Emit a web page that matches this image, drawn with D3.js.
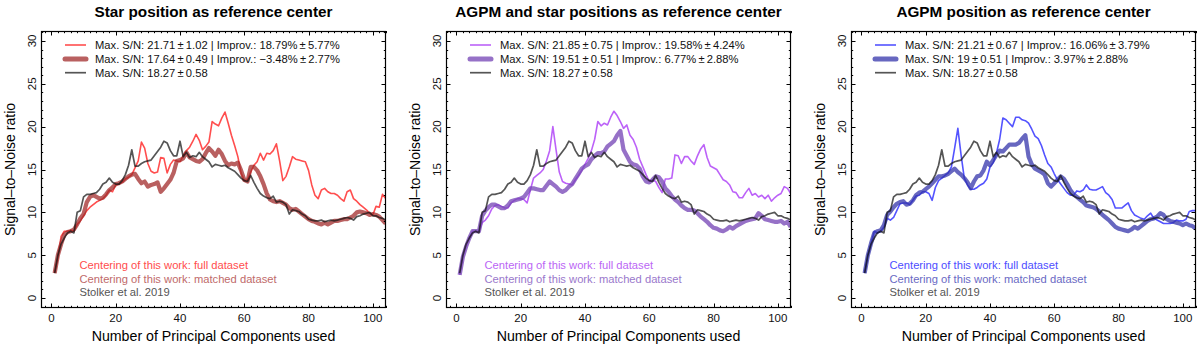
<!DOCTYPE html>
<html><head><meta charset="utf-8">
<script src="https://cdn.jsdelivr.net/npm/d3@7"></script>
<style>
html,body{margin:0;padding:0;background:#fff;}
svg{display:block;font-family:"Liberation Sans",Arial,Helvetica,sans-serif;}
</style></head>
<body><svg id="c" width="1200" height="347"></svg>
<script>
// ---- data ----
const pcs = d3.range(1, 105); // principal components used
const stolkerSN = [2.9,5.0,6.3,7.0,7.6,7.8,7.6,10.0,10.2,11.8,12.1,12.1,12.2,12.3,12.7,13.3,13.5,14.0,13.5,13.3,13.3,13.7,14.4,15.5,17.3,15.4,15.4,15.7,15.9,16.0,16.1,16.6,17.1,17.6,18.3,18.1,17.2,16.6,16.6,18.3,16.5,17.0,16.4,16.6,16.5,17.0,16.5,16.2,15.9,15.3,15.6,15.5,15.4,15.5,15.2,15.0,14.8,14.4,14.0,13.7,13.6,14.3,13.5,12.8,12.2,11.9,11.7,11.6,11.9,11.2,11.3,11.2,10.9,9.8,10.3,10.2,10.1,9.8,9.6,9.2,9.1,9.0,9.0,9.1,8.9,9.0,9.1,9.0,9.1,9.2,9.3,9.4,9.3,9.1,9.5,9.6,9.8,9.9,10.0,9.6,9.6,9.4,9.3,9.1];
const starFullSN = [2.9,4.7,7.2,7.8,7.8,7.9,7.8,8.6,9.0,9.6,10.2,10.6,10.9,11.2,11.4,11.6,12.0,12.6,12.4,13.2,13.3,13.5,13.9,14.1,14.4,15.2,16.0,18.2,17.5,15.7,14.8,14.6,14.7,16.4,16.3,14.6,15.6,16.1,16.0,15.9,16.6,17.2,17.6,18.3,19.1,18.4,17.3,17.7,18.2,20.6,20.3,20.1,21.0,21.7,20.4,19.0,17.8,16.5,14.6,13.7,13.8,14.7,15.5,15.9,16.9,16.1,16.9,16.8,17.2,18.0,16.0,13.7,14.2,15.3,16.5,16.2,16.1,16.0,15.9,14.9,13.2,12.0,11.6,12.6,12.8,12.4,12.2,12.2,12.0,11.6,11.3,12.4,12.6,11.6,11.3,10.9,10.6,10.3,9.9,9.7,10.7,10.6,12.1,11.6];
const starMatchedSN = [2.9,5.0,6.3,7.4,7.7,7.8,8.0,8.6,9.3,9.8,11.2,11.8,12.0,11.8,11.6,11.7,12.1,12.6,12.9,13.3,13.4,13.6,13.9,14.2,14.4,14.5,13.9,13.4,13.6,13.0,13.2,13.3,13.5,12.4,12.8,13.3,13.8,14.6,16.0,16.1,16.3,17.0,16.4,16.2,16.0,15.9,16.2,16.9,17.5,17.1,16.6,17.3,16.8,16.0,15.5,15.7,15.6,15.8,14.9,13.8,13.6,15.3,15.3,14.9,14.2,13.3,12.2,11.5,11.3,11.2,11.3,11.1,10.9,10.5,10.3,10.4,10.1,9.8,9.5,9.2,9.0,8.9,8.7,8.6,8.8,8.6,8.8,9.0,9.0,9.1,9.2,9.2,9.4,9.6,10.0,10.1,10.0,9.9,9.7,9.8,9.7,9.5,9.1,8.7];
const bothFullSN = [2.7,4.8,6.0,7.0,7.8,7.8,7.8,8.8,9.1,9.6,10.4,10.8,10.9,10.7,10.5,10.5,11.1,11.4,11.6,11.6,11.5,11.1,12.6,14.0,14.3,14.6,15.0,16.0,17.2,20.0,17.3,14.7,13.6,13.4,13.3,13.2,13.8,14.3,14.9,15.6,16.3,17.2,18.5,20.6,20.1,20.4,20.2,21.1,21.8,21.3,20.6,19.8,20.2,19.0,18.5,17.6,16.2,15.3,14.4,13.6,13.8,13.6,12.9,12.3,13.9,13.9,14.0,16.7,16.6,15.7,16.5,16.5,16.0,15.6,16.6,17.4,17.9,16.4,15.4,15.2,15.0,14.4,13.8,13.6,13.2,12.4,12.3,11.7,11.7,12.3,12.8,12.0,12.2,11.8,12.0,11.6,12.0,11.3,11.7,12.0,12.2,13.0,12.8,12.2];
const bothMatchedSN = [2.7,4.8,6.0,7.0,7.8,7.8,7.8,9.6,10.2,10.6,10.9,10.9,10.7,10.5,10.5,10.8,11.3,11.4,11.5,11.6,11.8,12.3,12.8,12.8,12.7,12.6,12.6,13.1,13.6,13.3,13.0,12.6,12.4,12.6,13.0,13.3,13.9,14.5,15.1,15.4,15.6,16.2,16.6,16.9,16.9,17.1,17.7,18.0,18.3,19.0,19.5,17.3,16.6,15.9,15.6,15.5,15.1,14.2,13.6,13.5,13.8,14.2,14.1,13.6,12.8,12.4,11.9,11.5,11.2,10.8,10.5,10.3,10.3,10.2,9.9,9.5,9.2,8.9,8.5,8.2,8.1,7.9,7.8,8.0,8.3,8.1,8.4,8.6,8.8,9.0,9.1,9.2,9.3,9.9,9.6,9.2,9.1,9.0,8.9,8.9,9.0,8.7,8.9,8.3];
const agpmFullSN = [2.9,5.0,6.4,7.8,7.6,7.8,8.3,9.3,9.1,9.4,10.2,11.0,11.1,11.1,10.9,11.4,11.9,12.0,12.4,12.4,12.2,11.4,12.9,13.7,14.0,14.3,14.6,15.3,17.5,19.8,16.7,14.0,13.2,12.7,12.7,12.9,13.2,13.4,13.9,15.3,15.8,16.9,18.5,21.0,20.8,20.4,20.0,21.1,21.1,20.8,20.7,20.4,19.7,18.9,18.6,17.8,16.7,15.7,15.3,14.5,13.8,13.3,12.8,12.3,12.0,12.0,12.5,12.4,12.6,13.2,12.7,12.6,12.6,12.8,13.0,12.3,12.0,11.5,10.5,10.5,10.5,10.8,11.1,10.2,9.7,9.5,9.3,9.2,9.6,9.9,9.3,9.1,8.9,8.7,8.7,8.7,8.8,9.1,9.0,9.0,9.2,10.1,10.2,10.2];
const agpmMatchedSN = [2.9,5.0,6.4,7.6,7.8,7.9,8.5,9.7,10.1,10.6,11.0,11.2,11.3,10.9,11.0,11.4,12.0,12.3,12.4,12.7,13.0,13.4,13.8,14.2,14.2,14.3,14.5,14.8,15.1,14.7,14.4,14.0,13.5,12.8,13.6,14.2,14.3,14.9,15.9,15.5,16.1,16.7,17.2,17.1,17.5,17.9,17.9,17.9,18.1,18.6,19.0,16.5,15.6,15.1,14.9,14.7,14.4,13.4,13.0,13.4,13.8,14.2,13.9,13.3,12.6,12.1,11.8,11.5,11.2,10.8,10.7,10.6,10.4,10.1,9.7,9.4,9.1,8.7,8.3,8.1,8.0,7.9,7.8,8.0,8.3,8.1,8.4,8.7,9.0,9.2,9.3,9.5,9.9,9.7,9.2,9.0,8.9,8.8,8.7,8.5,8.7,8.5,8.4,8.1];

const titles = ["Star position as reference center","AGPM and star positions as reference center","AGPM position as reference center"];
const fullSeries = [starFullSN, bothFullSN, agpmFullSN];
const matchedSeries = [starMatchedSN, bothMatchedSN, agpmMatchedSN];
const fullColors = ["rgba(255,28,28,0.78)","rgba(165,45,245,0.75)","rgba(25,25,255,0.75)"];
const matchedColors = ["rgba(160,40,40,0.74)","rgba(118,70,182,0.77)","rgba(50,50,170,0.74)"];
const fullText = ["#ff4d4d","#bb66f5","#4d4dff"];
const matchedText = ["#c06a6a","#9a78cc","#6a6ac4"];
const legendFull = ["Max. S/N: 21.71\u2009±\u20091.02 | Improv.: 18.79%\u2009±\u20095.77%","Max. S/N: 21.85\u2009±\u20090.75 | Improv.: 19.58%\u2009±\u20094.24%","Max. S/N: 21.21\u2009±\u20090.67 | Improv.: 16.06%\u2009±\u20093.79%"];
const legendMatched = ["Max. S/N: 17.64\u2009±\u20090.49 | Improv.: \u22123.48%\u2009±\u20092.77%","Max. S/N: 19.51\u2009±\u20090.51 | Improv.: 6.77%\u2009±\u20092.88%","Max. S/N: 19\u2009±\u20090.51 | Improv.: 3.97%\u2009±\u20092.88%"];
const legendStolker = "Max. S/N: 18.27\u2009±\u20090.58";
const xMajor = [0,20,40,60,80,100];
const yMajor = [0,5,10,15,20,25,30];

// ---- layout ----
const svg = d3.select("#c");
const panelLefts = [41, 446, 851];
const W = 345, plotTop = 31, plotBottom = 308;
const grayColor = "rgba(20,20,20,0.72)";

panelLefts.forEach((L, i) => {
  const x = d3.scaleLinear().domain([-3.25, 104.1]).range([L, L + W]);
  const y = d3.scaleLinear().domain([-1.16, 31.16]).range([plotBottom, plotTop]);
  const g = svg.append("g");
  const cid = "clip" + i;
  svg.append("defs").append("clipPath").attr("id", cid)
    .append("rect").attr("x", L).attr("y", plotTop).attr("width", W).attr("height", plotBottom - plotTop);

  const line = d3.line().x((d, j) => x(pcs[j])).y(d => y(d));
  const lines = g.append("g").attr("clip-path", `url(#${cid})`);
  lines.append("path").datum(fullSeries[i]).attr("d", line)
    .attr("fill", "none").attr("stroke", fullColors[i]).attr("stroke-width", 1.6).attr("stroke-linejoin", "round");
  lines.append("path").datum(matchedSeries[i]).attr("d", line)
    .attr("fill", "none").attr("stroke", matchedColors[i]).attr("stroke-width", 4.2).attr("stroke-linejoin", "round");
  lines.append("path").datum(stolkerSN).attr("d", line)
    .attr("fill", "none").attr("stroke", grayColor).attr("stroke-width", 1.7).attr("stroke-linejoin", "round");

  // frame
  g.append("rect").attr("x", L + 0.5).attr("y", plotTop + 0.5).attr("width", W - 1).attr("height", plotBottom - plotTop - 1)
    .attr("fill", "none").attr("stroke", "#000").attr("stroke-width", 1.2);

  // ticks (inward, all four sides)
  const xMinor = d3.range(-2, 105, 2).filter(v => !xMajor.includes(v));
  const yMinor = d3.range(-1, 32, 1).filter(v => !yMajor.includes(v));
  const tk = g.append("g").attr("stroke", "#000").attr("stroke-width", 1);
  const addX = (vals, len) => vals.forEach(v => {
    const px = Math.round(x(v)) + 0.5;
    tk.append("line").attr("x1", px).attr("x2", px).attr("y1", plotBottom).attr("y2", plotBottom - len);
    tk.append("line").attr("x1", px).attr("x2", px).attr("y1", plotTop).attr("y2", plotTop + len);
  });
  const addY = (vals, len) => vals.forEach(v => {
    const py = Math.round(y(v)) + 0.5;
    tk.append("line").attr("y1", py).attr("y2", py).attr("x1", L).attr("x2", L + len);
    tk.append("line").attr("y1", py).attr("y2", py).attr("x1", L + W).attr("x2", L + W - len);
  });
  addX(xMajor, 4.5); addX(xMinor, 2.2);
  addY(yMajor, 4.5); addY(yMinor, 2.2);

  // tick labels
  g.selectAll(".xt").data(xMajor).enter().append("text")
    .attr("x", d => x(d)).attr("y", 322).attr("text-anchor", "middle")
    .attr("font-size", 11.5).attr("fill", "#111").text(d => d);
  g.selectAll(".yt").data(yMajor).enter().append("text")
    .attr("transform", d => `translate(${L - 5.5},${y(d)}) rotate(-90)`)
    .attr("text-anchor", "middle").attr("font-size", 11.5).attr("fill", "#111").text(d => d);

  // axis titles
  g.append("text").attr("x", L + W / 2).attr("y", 341).attr("text-anchor", "middle")
    .attr("font-size", 14.2).attr("fill", "#000").text("Number of Principal Components used");
  g.append("text").attr("transform", `translate(${L - 26},${(plotTop + plotBottom) / 2}) rotate(-90)`)
    .attr("text-anchor", "middle").attr("font-size", 14).attr("fill", "#000").text("Signal\u2013to\u2013Noise ratio");
  g.append("text").attr("x", L + W / 2).attr("y", 16.5).attr("text-anchor", "middle")
    .attr("font-size", 15.3).attr("font-weight", "bold").attr("fill", "#000").text(titles[i]);

  // legend
  const rows = [
    {y: 45, c: fullColors[i], w: 1.6, t: legendFull[i]},
    {y: 59, c: matchedColors[i], w: 5, t: legendMatched[i]},
    {y: 72.7, c: grayColor, w: 1.7, t: legendStolker}
  ];
  rows.forEach(r => {
    g.append("line").attr("x1", L + 24).attr("x2", L + 45).attr("y1", r.y).attr("y2", r.y)
      .attr("stroke", r.c).attr("stroke-width", r.w).attr("stroke-linecap", r.w > 2 ? "round" : "butt");
    g.append("text").attr("x", L + 54).attr("y", r.y + 4).attr("font-size", 11.2).attr("fill", "#111").text(r.t);
  });

  // bottom notes
  const notes = [
    {t: "Centering of this work: full dataset", c: fullText[i], y: 269},
    {t: "Centering of this work: matched dataset", c: matchedText[i], y: 282.5},
    {t: "Stolker et al. 2019", c: "#555", y: 296}
  ];
  notes.forEach(n => g.append("text").attr("x", L + 38.5).attr("y", n.y)
    .attr("font-size", 11.2).attr("fill", n.c).text(n.t));
});
</script></body></html>
